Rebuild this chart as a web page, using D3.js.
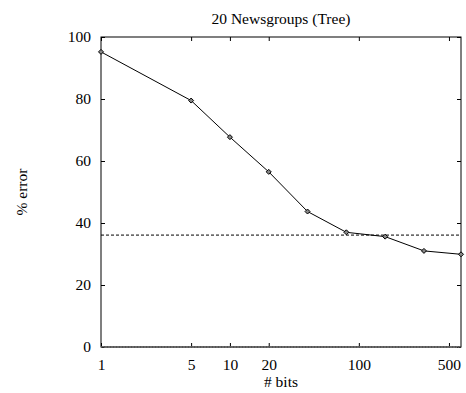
<!DOCTYPE html>
<html>
<head>
<meta charset="utf-8">
<script src="https://cdn.jsdelivr.net/npm/d3@7"></script>
<style>
  body { margin: 0; background: #fff; }
  svg { display: block; font-family: "Liberation Serif", "Times New Roman", serif; }
  .tick line { stroke: #000; }
</style>
</head>
<body>
<div id="chart"></div>
<script>
var bits = [1, 5, 10, 20, 40, 80, 160, 320, 620];
var errors = [95.2, 79.5, 67.7, 56.5, 43.7, 37.0, 35.6, 31.0, 29.9];
var baseline = 36.1;
var xTicks = [1, 5, 10, 20, 100, 500];
var yTicks = [0, 20, 40, 60, 80, 100];

var width = 466, height = 393;
var margins = {top: 37, right: 5, bottom: 46, left: 101};

var svg = d3.select('#chart')
  .append('svg')
  .attr('width', width)
  .attr('height', height);

var x = d3.scaleLog()
  .domain([1, 620])
  .range([margins.left, width - margins.right]);

var y = d3.scaleLinear()
  .domain([0, 100])
  .range([height - margins.bottom, margins.top]);

// left axis with labels
var yAxis = svg.append('g')
  .attr('transform', 'translate(' + margins.left + ',0)')
  .call(d3.axisLeft(y).tickValues(yTicks).tickSizeInner(-4).tickSizeOuter(0).tickPadding(10));
yAxis.select('.domain').remove();
yAxis.selectAll('text').attr('font-size', 15.5).attr('font-family', 'Liberation Serif').attr('fill', '#000');

// right axis ticks only
var yAxisR = svg.append('g')
  .attr('transform', 'translate(' + (width - margins.right) + ',0)')
  .call(d3.axisRight(y).tickValues(yTicks).tickSizeInner(-4).tickSizeOuter(0).tickFormat(''));
yAxisR.select('.domain').remove();

// bottom axis with labels
var xAxis = svg.append('g')
  .attr('transform', 'translate(0,' + (height - margins.bottom) + ')')
  .call(d3.axisBottom(x).tickValues(xTicks).tickFormat(d3.format('d')).tickSizeInner(-4).tickSizeOuter(0).tickPadding(12));
xAxis.select('.domain').remove();
xAxis.selectAll('text').attr('font-size', 15.5).attr('font-family', 'Liberation Serif').attr('fill', '#000');

// top axis ticks only
var xAxisT = svg.append('g')
  .attr('transform', 'translate(0,' + margins.top + ')')
  .call(d3.axisTop(x).tickValues(xTicks).tickSizeInner(-4).tickSizeOuter(0).tickFormat(''));
xAxisT.select('.domain').remove();

// border
svg.append('rect')
  .attr('x', margins.left)
  .attr('y', margins.top)
  .attr('width', width - margins.right - margins.left)
  .attr('height', height - margins.bottom - margins.top)
  .attr('fill', 'none')
  .attr('stroke', '#000')
  .attr('stroke-width', 1);

// zero axis drawn over bottom border
svg.append('line')
  .attr('x1', margins.left)
  .attr('x2', width - margins.right)
  .attr('y1', y(0))
  .attr('y2', y(0))
  .attr('stroke', '#555')
  .attr('stroke-width', 2)
  .attr('stroke-dasharray', '1,0.5');

// dashed reference line
svg.append('line')
  .attr('x1', margins.left)
  .attr('x2', width - margins.right)
  .attr('y1', y(baseline))
  .attr('y2', y(baseline))
  .attr('stroke', '#000')
  .attr('stroke-width', 1)
  .attr('stroke-dasharray', '3,2');

var lineFunc = d3.line()
  .x(function(d, i) { return x(bits[i]); })
  .y(function(d) { return y(d); });

svg.append('path')
  .attr('d', lineFunc(errors))
  .attr('fill', 'none')
  .attr('stroke', '#000')
  .attr('stroke-width', 1);

/* diamond markers */
svg.selectAll('.pt')
  .data(errors)
  .enter()
  .append('path')
  .attr('class', 'pt')
  .attr('transform', function(d, i) { return 'translate(' + x(bits[i]) + ',' + y(d) + ')'; })
  .attr('d', 'M0,-2.5L2.5,0L0,2.5L-2.5,0Z')
  .attr('fill', '#888')
  .attr('stroke', '#000')
  .attr('stroke-width', 1);

// title and axis labels
svg.append('text')
  .attr('x', (margins.left + width - margins.right) / 2)
  .attr('y', 24)
  .attr('text-anchor', 'middle')
  .attr('font-size', 15.5)
  .text('20 Newsgroups (Tree)');

svg.append('text')
  .attr('x', (margins.left + width - margins.right) / 2)
  .attr('y', 387)
  .attr('text-anchor', 'middle')
  .attr('font-size', 15.5)
  .text('# bits');

svg.append('text')
  .attr('transform', 'translate(27,' + ((margins.top + height - margins.bottom) / 2) + ') rotate(-90)')
  .attr('text-anchor', 'middle')
  .attr('font-size', 15.5)
  .text('% error');
</script>
</body>
</html>
